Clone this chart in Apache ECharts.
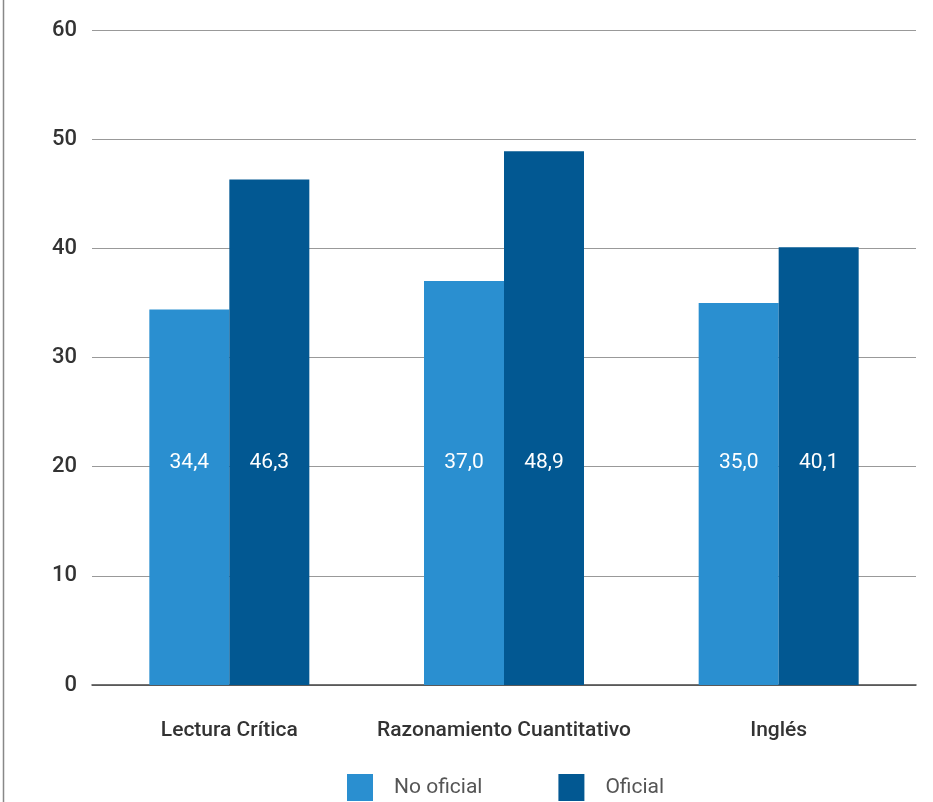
<!DOCTYPE html>
<html>
<head>
<meta charset="utf-8">
<script src="https://cdn.jsdelivr.net/npm/echarts@6/dist/echarts.min.js"></script>
<style>
  html, body { margin: 0; padding: 0; background: #fff; }
  #chart { width: 933px; height: 802px; }
</style>
</head>
<body>
<div id="chart"></div>
<script>
// Puntaje promedio por prueba según tipo de institución
const categories = ['Lectura Crítica', 'Razonamiento Cuantitativo', 'Inglés'];
const noOficial = [34.4, 37.0, 35.0];
const oficial = [46.3, 48.9, 40.1];
const seriesNames = ['No oficial', 'Oficial'];
const yTicks = [0, 10, 20, 30, 40, 50, 60];

const FONT = 'Roboto';
const fmt = v => v.toFixed(1).replace('.', ',');

const chart = echarts.init(document.getElementById('chart'));

const valueLabel = {
  show: true,
  position: 'insideBottom',
  distance: 212,
  color: '#fff',
  fontFamily: FONT,
  fontSize: 21,
  formatter: p => fmt(p.value)
};

chart.setOption({
  animation: false,
  backgroundColor: '#fff',
  grid: { left: 92, right: 17, top: 30, bottom: 117 },
  legend: {
    left: 347,
    top: 774,
    padding: 0,
    itemWidth: 26,
    itemHeight: 27,
    itemGap: 76,
    icon: 'rect',
    textStyle: { fontFamily: FONT, fontSize: 21, color: '#555', padding: [0, 0, 0, 16] },
    data: seriesNames
  },
  graphic: [{
    type: 'line',
    shape: { x1: 3.5, y1: 0, x2: 3.5, y2: 802 },
    style: { stroke: '#888', lineWidth: 1.5 }
  }],
  xAxis: {
    type: 'category',
    data: categories,
    axisLine: { lineStyle: { color: '#444', width: 1.5 } },
    axisTick: { show: false },
    axisLabel: { interval: 0, margin: 35, fontFamily: FONT, fontWeight: 500, fontSize: 21, color: '#333' }
  },
  yAxis: {
    type: 'value',
    min: yTicks[0],
    max: yTicks[yTicks.length - 1],
    interval: 10,
    axisLine: { show: false },
    axisTick: { show: false },
    axisLabel: { margin: 15, fontFamily: FONT, fontWeight: 500, fontSize: 22, color: '#333' },
    splitLine: { lineStyle: { color: '#999', width: 1 } }
  },
  series: [
    {
      name: seriesNames[0],
      type: 'bar',
      data: noOficial,
      barWidth: 80,
      barGap: '0%',
      itemStyle: { color: '#2a8fd0' },
      label: valueLabel
    },
    {
      name: seriesNames[1],
      type: 'bar',
      data: oficial,
      barWidth: 80,
      barGap: '0%',
      itemStyle: { color: '#025892' },
      label: valueLabel
    }
  ]
});
</script>
</body>
</html>
